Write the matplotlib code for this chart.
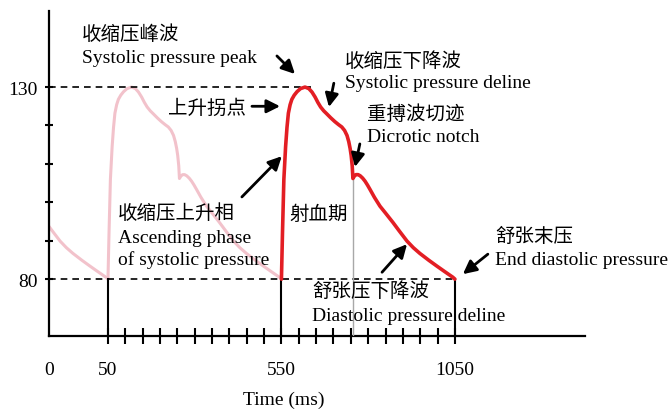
import matplotlib
matplotlib.use("Agg")
import matplotlib.pyplot as plt
import numpy as np
from matplotlib.transforms import blended_transform_factory

plt.rcParams['font.family'] = ['Liberation Serif', 'Noto Sans CJK SC', 'DejaVu Sans']

# ---- data ----
beat_time = [550, 553, 557, 562, 566, 570, 575, 580, 587, 595, 605, 618, 629, 638, 647,
             655, 663, 672, 681, 692, 704, 715, 724, 732, 739, 744, 748, 751, 754, 756,
             760, 765, 771, 777, 784, 791, 798, 805, 818, 834, 850, 871, 890, 912, 930,
             949, 975, 998, 1020, 1044, 1050]
beat_pressure = [80, 92, 106, 114.5, 119.5, 123.2, 125.4, 126.8, 127.9, 128.8, 129.6, 130,
                 129.6, 128.7, 127.4, 126.0, 124.8, 123.8, 123.0, 122.0, 121.0, 120.2, 119.6,
                 118.7, 117.4, 115.8, 114.0, 112.2, 109.5, 106.2, 106.8, 107.2, 107.2, 106.9,
                 106.3, 105.5, 104.5, 103.4, 101.3, 99.0, 97.2, 94.8, 92.5, 89.9, 88.2,
                 86.7, 84.9, 83.4, 82.0, 80.5, 80]
period = 500
notch_time = 755
notch_pressure = 106
systolic_peak = 130
end_diastolic = 80
time_marks = [50, 550, 1050]
tick_labels = ["50", "550", "1050"]
origin_label = "0"
y_tick_values = [80, 130]
y_minor_values = [90, 100, 110, 120]
minor_time = list(range(50, 1051, 50))

fig = plt.figure(figsize=(6.71, 4.10), dpi=100)
ax = fig.add_axes([49/671, 1-337/410, 536/671, 325/410])
x0, x1 = -120, 1425
ax.set_xlim(x0, x1)
ax.set_ylim(65.2, 149.8)

t = np.array(beat_time, float)
p = np.array(beat_pressure, float)

pink = '#f2c2cb'
red = '#e31e24'
# previous beats (faded)
for k in (1, 2):
    ax.plot(t - k*period, p, color=pink, lw=2.2, solid_capstyle='round',
            solid_joinstyle='round', zorder=2)
# current beat
ax.plot(t, p, color=red, lw=2.6, solid_capstyle='round', solid_joinstyle='round', zorder=4)

# reference lines
ax.plot([x0, 635], [systolic_peak, systolic_peak], color='black', lw=1.2, ls=(0, (4, 3)), zorder=3)
ax.plot([x0, time_marks[-1]], [end_diastolic, end_diastolic], color='black', lw=1.2, ls=(0, (4, 3)), zorder=3)
for tm in time_marks:
    ax.plot([tm, tm], [65.2, end_diastolic], color='black', lw=1.5, zorder=3)
ax.plot([notch_time, notch_time], [65.2, notch_pressure], color='#a8a8a8', lw=1.0, zorder=3)

# spines and ticks
for s in ('top', 'right'):
    ax.spines[s].set_visible(False)
for s in ('left', 'bottom'):
    ax.spines[s].set_linewidth(1.6)
ax.set_xticks([x0] + time_marks)
ax.set_xticklabels([origin_label] + tick_labels)
ax.set_xticks(minor_time, minor=True)
ax.tick_params(axis='x', which='both', direction='inout', length=12, width=1.5,
               labelsize=14, pad=12)
ax.xaxis.get_major_ticks()[0].tick1line.set_visible(False)
ax.set_yticks(y_tick_values)
ax.set_yticklabels([str(v) for v in y_tick_values])
ax.set_yticks(y_minor_values, minor=True)
ax.tick_params(axis='y', which='both', direction='inout', length=6, width=1.5,
               labelsize=14, pad=5)

trans = blended_transform_factory(ax.transData, ax.transAxes)
ax.text(557, -0.194, "Time (ms)", transform=trans, ha='center', va='center', fontsize=14)

fs = 14
cfs = 14
def txt(x, y, s, size):
    ax.text(x, y, s, ha='left', va='center', fontsize=size, zorder=5)

txt(-25, 143.8, "收缩压峰波", cfs)
txt(-25, 137.8, "Systolic pressure peak", fs)
txt(733, 137.0, "收缩压下降波", cfs)
txt(733, 131.3, "Systolic pressure deline", fs)
txt(796, 123.0, "重搏波切迹", cfs)
txt(796, 117.2, "Dicrotic notch", fs)
txt(223, 124.5, "上升拐点", cfs)
txt(79, 97.2, "收缩压上升相", cfs)
txt(79, 90.9, "Ascending phase", fs)
txt(79, 85.2, "of systolic pressure", fs)
txt(574, 96.9, "射血期", cfs)
txt(1165, 91.2, "舒张末压", cfs)
txt(1165, 85.2, "End diastolic pressure", fs)
txt(638, 76.9, "舒张压下降波", cfs)
txt(638, 70.6, "Diastolic pressure deline", fs)

arrows = [((537, 138.1), (589, 133.4)),
          ((465, 125.0), (546, 125.0)),
          ((436, 101.4), (551, 112.0)),
          ((701, 131.0), (687, 124.8)),
          ((776, 115.2), (762, 109.2)),
          ((840, 81.8), (912, 89.1)),
          ((1145, 86.5), (1073, 81.3))]
for start, end in arrows:
    ax.annotate("", xy=end, xytext=start,
                arrowprops=dict(arrowstyle='-|>,head_length=0.8,head_width=0.4', lw=2.0,
                                color='black', shrinkA=0, shrinkB=0),
                zorder=6)

fig.savefig("out.png", dpi=100)
